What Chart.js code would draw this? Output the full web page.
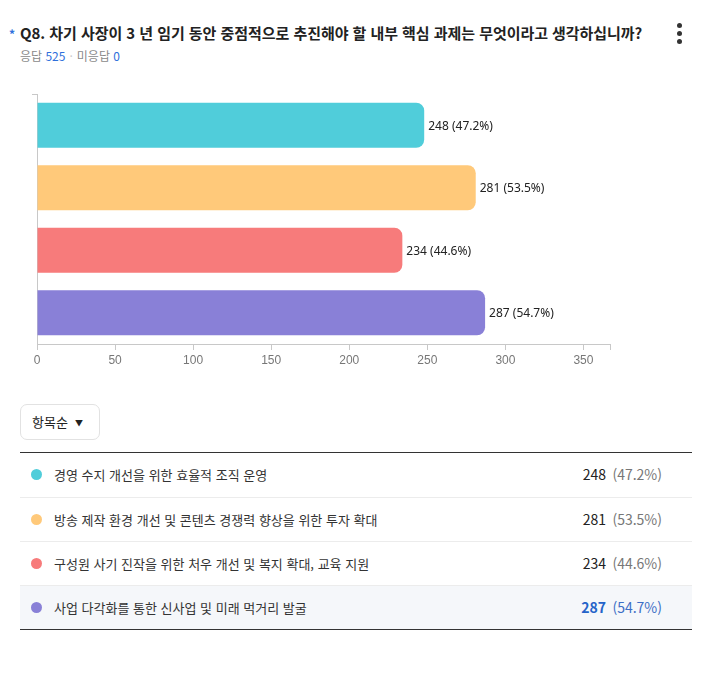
<!DOCTYPE html>
<html lang="ko">
<head>
<meta charset="utf-8">
<script src="https://cdn.jsdelivr.net/npm/chart.js@4.4.1/dist/chart.umd.min.js"></script>
<style>
  body { margin: 0; background: #fff; font-family: "Noto Sans CJK KR", "Noto Sans", sans-serif; }
  #page { position: relative; width: 713px; height: 676px; overflow: hidden; }
  .title { position: absolute; left: 20px; top: 22px; font-size: 15px; font-weight: bold; color: #222; letter-spacing: -0.05px; white-space: nowrap; }
  .star { position: absolute; left: 9px; top: 25px; font-size: 12px; font-weight: bold; color: #2f6fdb; }
  .sub { position: absolute; left: 20px; top: 47px; font-size: 12px; color: #8a8a8a; white-space: nowrap; }
  .sub .num { color: #2f6fdb; }
  .sub .dot { color: #ccc; margin: 0 4px; }
  .kebab { position: absolute; left: 677px; top: 23px; width: 5px; }
  .kebab span { display: block; width: 5px; height: 5px; border-radius: 50%; background: #333; margin-bottom: 3px; }
  #chartBox { position: absolute; left: 0; top: 81px; width: 660px; height: 300px; }
  .sort { position: absolute; left: 20px; top: 404px; width: 80px; height: 36px; border: 1px solid #e2e2e2; border-radius: 7px; box-sizing: border-box; font-size: 13px; color: #222; line-height: 34px; padding-left: 11px; }
  .sort small { font-size: 8px; margin-left: 7px; vertical-align: 1px; }
  #table { position: absolute; left: 20px; top: 452px; width: 672px; border-top: 1px solid #333; border-bottom: 1px solid #333; }
  .row { position: relative; height: 44px; border-top: 1px solid #ececec; box-sizing: border-box; }
  .row:first-child { border-top: none; }
  .row.top { background: #f5f7fa; }
  .row i { position: absolute; left: 11px; top: 16px; width: 11px; height: 11px; border-radius: 50%; }
  .row .lab { position: absolute; left: 34px; top: 12px; font-size: 13px; color: #333; white-space: nowrap; }
  .row .cnt { position: absolute; right: 86px; top: 11px; font-size: 14px; color: #222; }
  .row .pct { position: absolute; right: 30px; top: 11px; font-size: 14px; color: #777; }
  .row.top .cnt { color: #2563c9; font-weight: bold; }
  .row.top .pct { color: #3d6fc6; }
</style>
</head>
<body>
<div id="page">
  <div class="star">*</div>
  <div class="title">Q8. 차기 사장이 3 년 임기 동안 중점적으로 추진해야 할 내부 핵심 과제는 무엇이라고 생각하십니까?</div>
  <div class="sub">응답 <span class="num">525</span><span class="dot">·</span>미응답 <span class="num">0</span></div>
  <div class="kebab"><span></span><span></span><span></span></div>
  <div id="chartBox"><canvas id="myChart"></canvas></div>
  <div class="sort">항목순<small>▼</small></div>
  <div id="table"></div>
</div>
<script>
// 항목
const categories = [
	'경영 수지 개선을 위한 효율적 조직 운영',
	'방송 제작 환경 개선 및 콘텐츠 경쟁력 향상을 위한 투자 확대',
	'구성원 사기 진작을 위한 처우 개선 및 복지 확대, 교육 지원',
	'사업 다각화를 통한 신사업 및 미래 먹거리 발굴'
];
const counts = [248, 281, 234, 287];
const percents = ['47.2%', '53.5%', '44.6%', '54.7%'];
const barColors = ['#50cdda', '#ffc97a', '#f77b7b', '#8980d7'];
const xTicks = [0, 50, 100, 150, 200, 250, 300, 350];

// 막대 끝에 값 표시
const endLabels = {
	id: 'endLabels',
	afterDatasetsDraw(chart) {
		const ctx = chart.ctx;
		const meta = chart.getDatasetMeta(0);
		ctx.save();
		ctx.font = '12px "Noto Sans", sans-serif';
		ctx.fillStyle = '#222';
		ctx.textBaseline = 'middle';
		meta.data.forEach(function(bar, i) {
			ctx.fillText(counts[i] + ' (' + percents[i] + ')', bar.x + 4, bar.y + 1);
		});
		ctx.restore();
	}
};

const ctx = document.getElementById('myChart');
window.myChart = new Chart(ctx, {
	type: 'bar',
	data: {
		labels: categories,
		datasets: [{
			data: counts,
			backgroundColor: barColors,
			borderRadius: 8,
			borderSkipped: 'start',
			categoryPercentage: 0.9,
			barPercentage: 0.8
		}]
	},
	options: {
		indexAxis: 'y',
		responsive: true,
		maintainAspectRatio: false,
		animation: false,
		layout: { padding: { left: 32, top: 13, right: 50, bottom: 7 } },
		scales: {
			x: {
				min: 0,
				max: 367,
				afterBuildTicks(scale) {
					scale.ticks = xTicks.map(v => ({ value: v })).concat([{ value: 367 }]);
				},
				afterFit(scale) { scale.height = 30; },
				grid: { drawOnChartArea: false, tickLength: 6, color: '#c8c8c8' },
				border: { color: '#c8c8c8' },
				ticks: {
					color: '#777',
					font: { size: 12, family: 'Liberation Sans' },
					callback: v => (xTicks.includes(v) ? v : '')
				}
			},
			y: {
				afterFit(scale) { scale.width = 5; },
				ticks: { display: false },
				grid: {
					drawOnChartArea: false,
					tickLength: 5,
					color: c => (c.index === 0 || c.index === categories.length) ? '#c8c8c8' : 'rgba(0,0,0,0)'
				},
				border: { color: '#c8c8c8' }
			}
		},
		plugins: {
			legend: { display: false },
			tooltip: { enabled: false }
		}
	},
	plugins: [endLabels]
});

// 아래 표
const table = document.getElementById('table');
const maxCount = Math.max(...counts);
categories.forEach(function(name, i) {
	const row = document.createElement('div');
	row.className = 'row' + (counts[i] === maxCount ? ' top' : '');
	row.innerHTML = '<i style="background:' + barColors[i] + '"></i>' +
		'<span class="lab">' + name + '</span>' +
		'<span class="cnt">' + counts[i] + '</span>' +
		'<span class="pct">(' + percents[i] + ')</span>';
	table.appendChild(row);
});
</script>
</body>
</html>
